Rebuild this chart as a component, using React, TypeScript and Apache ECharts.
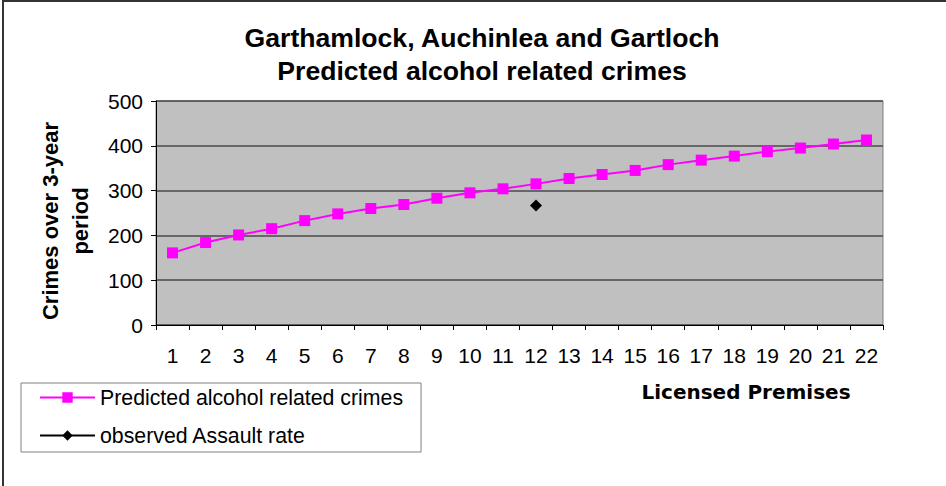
import { useEffect, useRef } from "react";
import * as echarts from "echarts";

const categories = ["1", "2", "3", "4", "5", "6", "7", "8", "9", "10", "11", "12", "13", "14", "15", "16", "17", "18", "19", "20", "21", "22"];
const predicted = [161, 184, 201, 215, 233, 248, 260, 269, 283, 295, 304, 315, 327, 336, 345, 358, 368, 377, 387, 395, 404, 413];
const observed = [null, null, null, null, null, null, null, null, null, null, null, 267, null, null, null, null, null, null, null, null, null, null];
const titleText = "Garthamlock, Auchinlea and Gartloch\nPredicted alcohol related crimes";
const yAxisName = "Crimes over 3-year\nperiod";
const xAxisName = "Licensed Premises";
const seriesNames = ["Predicted alcohol related crimes", "observed Assault rate"];

const FONT = '"Liberation Sans", Arial, sans-serif';

export default function App() {
  const ref = useRef<HTMLDivElement>(null);
  useEffect(() => {
    const chart = echarts.init(ref.current!, null, { renderer: "svg" });
    chart.setOption({
      animation: false,
      backgroundColor: "#ffffff",
      textStyle: { fontFamily: FONT },
      legend: {
        orient: "vertical",
        left: 21,
        top: 383,
        padding: [4, 18, 6, 18],
        itemGap: 17,
        itemWidth: 55,
        itemHeight: 13,
        borderColor: "#808080",
        borderWidth: 1,
        backgroundColor: "#ffffff",
        textStyle: { fontFamily: FONT, fontSize: 21.3, color: "#000" },
        data: seriesNames,
      },
      grid: {
        left: 156,
        top: 101,
        right: 63,
        bottom: 161,
        show: true,
        backgroundColor: "#C0C0C0",
        borderColor: "#808080",
        borderWidth: 1,
        outerBoundsMode: "none",
      },
      xAxis: {
        type: "category",
        data: categories,
        boundaryGap: true,
        axisLine: { lineStyle: { color: "#000", width: 1 } },
        axisTick: { show: true, length: 5, lineStyle: { color: "#000" } },
        axisLabel: { interval: 0, fontFamily: FONT, fontSize: 21, color: "#000", margin: 20 },
        splitLine: { show: false },
      },
      yAxis: {
        type: "value",
        min: 0,
        max: 500,
        interval: 100,
        name: yAxisName,
        nameLocation: "middle",
        nameRotate: 90,
        nameGap: 61,
        nameTextStyle: {
          fontFamily: FONT,
          fontSize: 22,
          fontWeight: "bold",
          lineHeight: 30,
          color: "#000",
          padding: [0, 16, 0, 0],
        },
        axisLine: { show: true, lineStyle: { color: "#000", width: 1 } },
        axisTick: { show: true, length: 5, lineStyle: { color: "#000" } },
        axisLabel: { fontFamily: FONT, fontSize: 21, color: "#000", margin: 13 },
        splitLine: { show: true, lineStyle: { color: "#4a4a4a", width: 1.5 } },
      },
      series: [
        {
          name: seriesNames[0],
          type: "line",
          data: predicted,
          symbol: "rect",
          symbolSize: 11,
          lineStyle: { color: "#FF00FF", width: 2 },
          itemStyle: { color: "#FF00FF" },
        },
        {
          name: seriesNames[1],
          type: "line",
          data: observed,
          symbol: "diamond",
          symbolSize: 12,
          lineStyle: { color: "#000000", width: 2 },
          itemStyle: { color: "#000000" },
        },
      ],
      graphic: [
        {
          type: "rect",
          silent: true,
          shape: { x: 3, y: 1, width: 1000, height: 600 },
          style: { fill: "none", stroke: "#333333", lineWidth: 2 },
        },
        {
          type: "text",
          silent: true,
          x: 482,
          y: 21,
          style: {
            text: titleText,
            fontFamily: FONT,
            fontSize: 26.6,
            fontWeight: "bold",
            lineHeight: 33,
            fill: "#000",
            align: "center",
            verticalAlign: "top",
          },
        },
        {
          type: "text",
          silent: true,
          x: 746,
          y: 392,
          style: {
            text: xAxisName,
            fontFamily: '"DejaVu Sans", sans-serif',
            fontSize: 20,
            fontWeight: "bold",
            fill: "#000",
            align: "center",
            verticalAlign: "middle",
          },
        },
      ],
    });
    return () => chart.dispose();
  }, []);
  return (
    <div
      ref={ref}
      style={{ position: "absolute", left: 0, top: 0, width: 946, height: 486, background: "#fff" }}
    />
  );
}
